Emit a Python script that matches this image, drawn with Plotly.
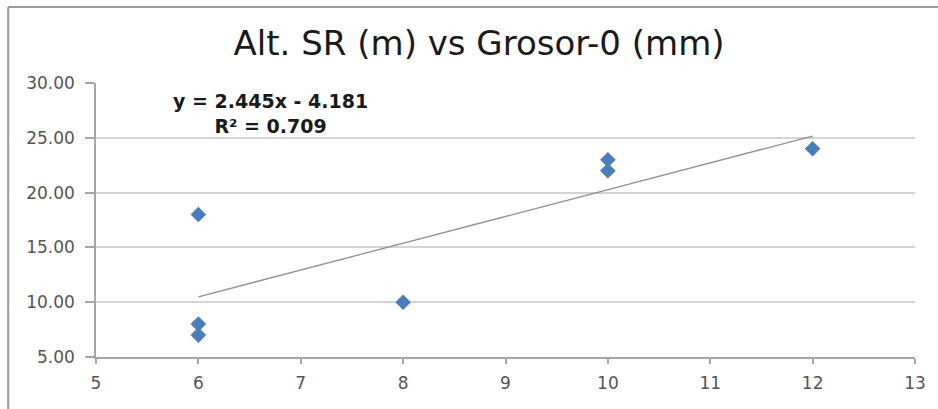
import plotly.graph_objects as go

# Grosor-0 (mm) vs Alt. SR (m) observations
grosor_mm = [6, 6, 6, 8, 10, 10, 12]
alt_sr_m = [18, 8, 7, 10, 23, 22, 24]

# Linear trendline coefficients (as reported in the equation label)
slope = 2.445
intercept = -4.181
r_squared = 0.709
trend_x = [min(grosor_mm), max(grosor_mm)]
trend_y = [slope * x + intercept for x in trend_x]

x_ticks = [5, 6, 7, 8, 9, 10, 11, 12, 13]
y_ticks = [5, 10, 15, 20, 25, 30]

W, H = 938, 409
ML, MR, MT, MB = 96, 21, 83, 52
plot_w = W - ML - MR
plot_h = H - MT - MB

fig = go.Figure()

fig.add_trace(go.Scatter(
    x=trend_x, y=trend_y, mode="lines",
    line=dict(color="#8f8f8f", width=1.3),
    hoverinfo="skip", showlegend=False,
))

fig.add_trace(go.Scatter(
    x=grosor_mm, y=alt_sr_m, mode="markers",
    marker=dict(symbol="diamond", size=12, color="#4a7ebb",
                line=dict(width=0)),
    showlegend=False,
))

fig.add_annotation(
    x=6.70, y=27.2, xref="x", yref="y",
    text=f"<b>y = {slope}x - {abs(intercept)}</b><br><b>R² = {r_squared}</b>",
    showarrow=False, align="center",
    font=dict(family="DejaVu Sans", size=19, color="#1a1a1a"),
)

# Chart frame (left and top edges of the chart area)
fx0 = (8 - ML) / plot_w
fy_top = (H - MB - 7) / plot_h
fig.add_shape(type="line", xref="paper", yref="paper",
              x0=fx0, x1=fx0, y0=-0.3, y1=fy_top,
              line=dict(color="#9a9a9a", width=2))
fig.add_shape(type="line", xref="paper", yref="paper",
              x0=fx0, x1=1.1, y0=fy_top, y1=fy_top,
              line=dict(color="#9a9a9a", width=2))

fig.update_layout(
    width=W, height=H,
    margin=dict(l=ML, r=MR, t=MT, b=MB),
    paper_bgcolor="#ffffff",
    plot_bgcolor="#ffffff",
    title=dict(
        text="Alt. SR (m) vs Grosor-0 (mm)",
        x=(480 - ML) / plot_w, xref="paper", xanchor="center",
        y=1 - 43 / H, yref="container", yanchor="middle",
        font=dict(family="DejaVu Sans", size=34, color="#1a1a1a"),
    ),
    xaxis=dict(
        range=[5, 13], tickvals=x_ticks,
        ticktext=[str(v) for v in x_ticks],
        showgrid=False, zeroline=False,
        showline=True, linecolor="#a6a6a6", linewidth=1.5,
        ticks="outside", ticklen=5, tickcolor="#a6a6a6", tickwidth=1.5,
        ticklabelstandoff=5,
        tickfont=dict(family="DejaVu Sans", size=17, color="#555555"),
    ),
    yaxis=dict(
        range=[5, 30], tickvals=y_ticks,
        ticktext=[f"{v:.2f}" for v in y_ticks],
        showgrid=True, gridcolor="#d4d4d4", gridwidth=2,
        zeroline=False,
        showline=True, linecolor="#a6a6a6", linewidth=1.5,
        ticks="outside", ticklen=9, tickcolor="#a6a6a6", tickwidth=1.5,
        ticklabelstandoff=7,
        tickfont=dict(family="DejaVu Sans", size=17, color="#555555"),
    ),
)

fig.write_html("out.html")
